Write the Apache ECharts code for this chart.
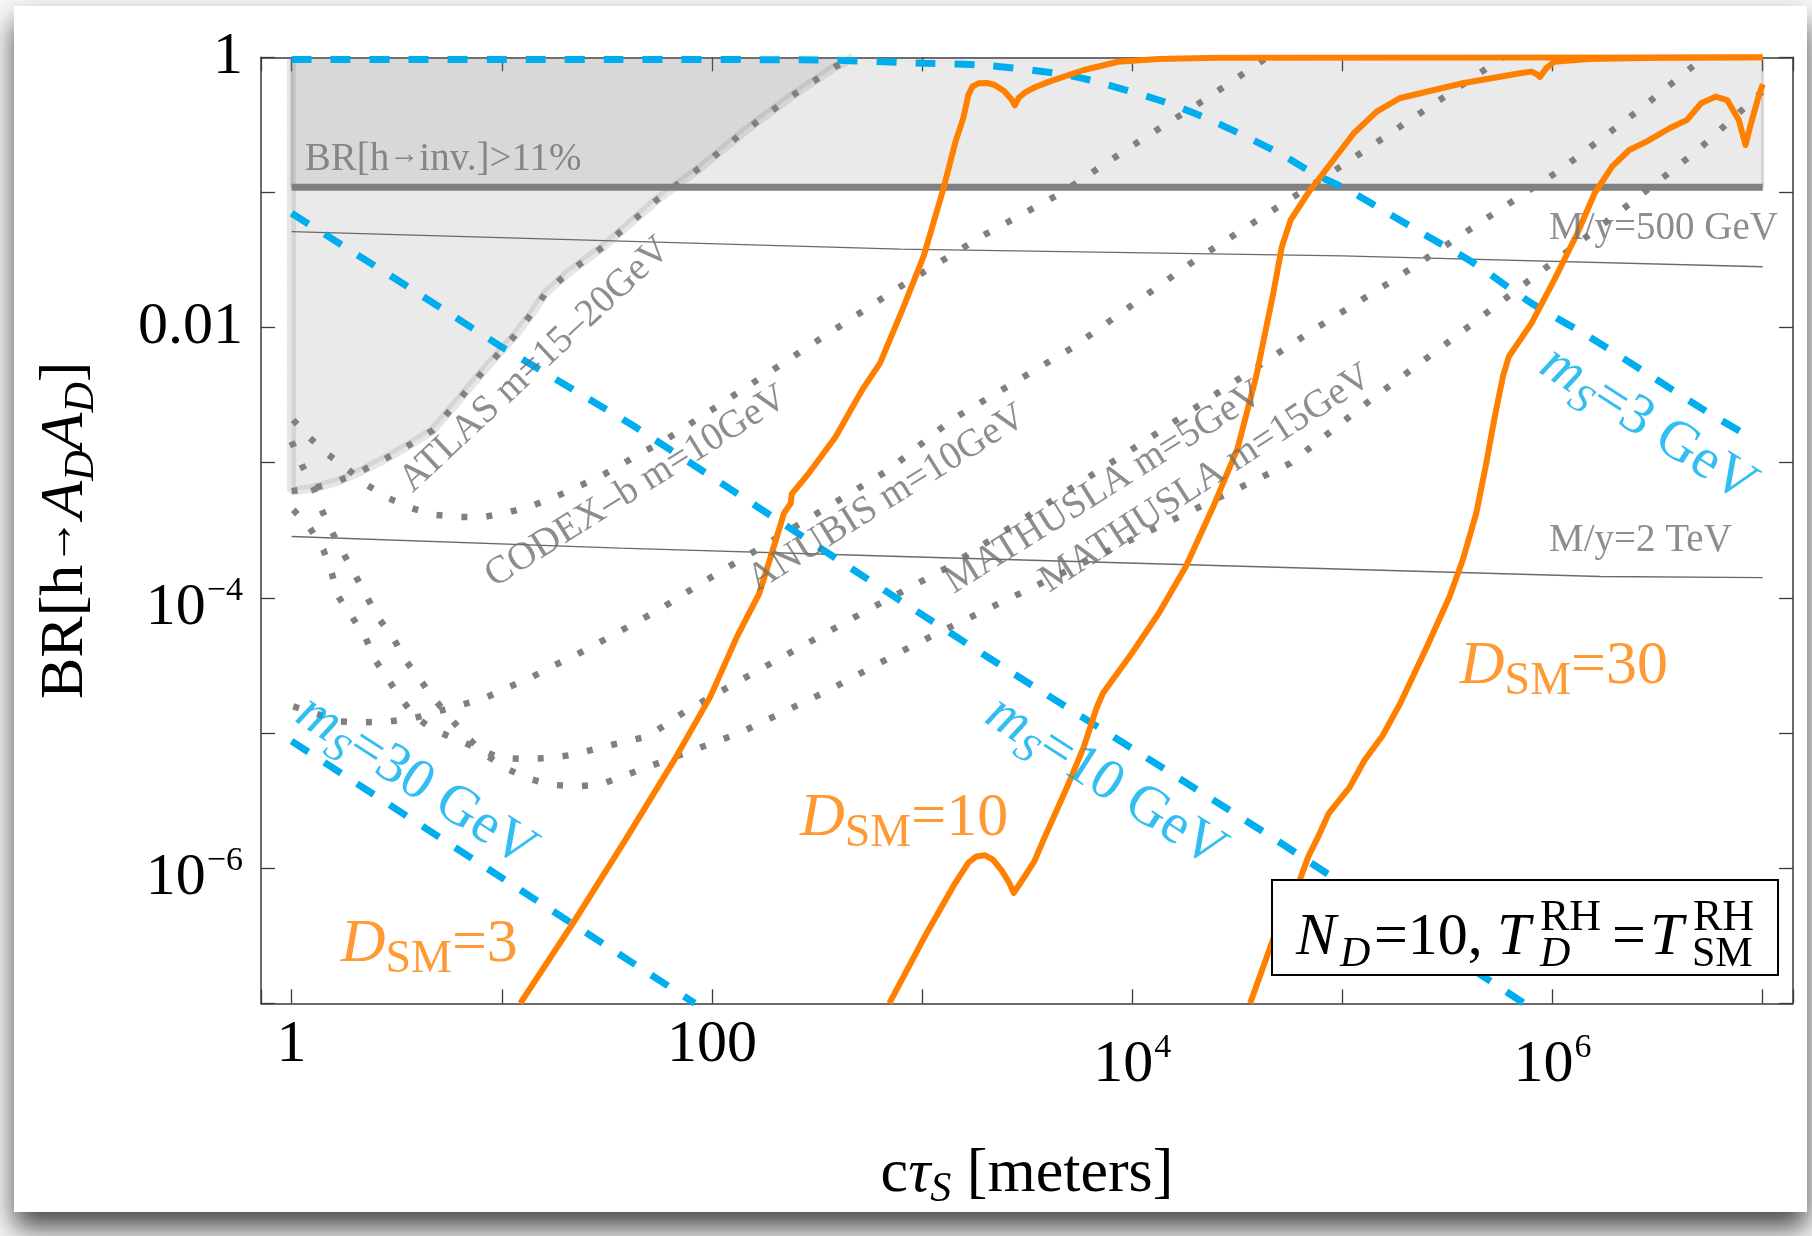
<!DOCTYPE html>
<html>
<head>
<meta charset="utf-8">
<title>BR(h→A_D A_D) vs cτ_S</title>
<script src="https://cdn.jsdelivr.net/npm/echarts@6.0.0/dist/echarts.min.js"></script>
<style>
  html, body { margin: 0; padding: 0; background: #f7f7f7; }
  #chart { width: 1812px; height: 1236px; }
</style>
</head>
<body>
<div id="chart"></div>
<script>
// Every curve below is a list of [log10(cτ_S / m), log10(BR)] points.

// Orange: fixed D_SM
const dSM3 = [[1.088,-7.0],[1.345,-6.393],[1.589,-5.789],[1.822,-5.197],[1.993,-4.729],[2.12,-4.285],[2.226,-3.964],[2.29,-3.644],[2.343,-3.373],[2.375,-3.30],[2.38,-3.23],[2.46,-3.08],[2.588,-2.81],[2.715,-2.461],[2.8,-2.263],[2.906,-1.869],[3.008,-1.47],[3.1,-0.98],[3.16,-0.62],[3.196,-0.45],[3.22,-0.28],[3.24,-0.215],[3.27,-0.192],[3.31,-0.19],[3.345,-0.205],[3.39,-0.25],[3.425,-0.31],[3.441,-0.355],[3.46,-0.30],[3.49,-0.26],[3.54,-0.22],[3.605,-0.18],[3.769,-0.094],[3.933,-0.033],[4.124,-0.012],[4.4,-0.003],[7.0,0]];
const dSM10 = [[2.844,-7.0],[3.022,-6.479],[3.15,-6.13],[3.22,-5.96],[3.258,-5.913],[3.3,-5.905],[3.337,-5.937],[3.38,-6.02],[3.415,-6.11],[3.436,-6.183],[3.48,-6.08],[3.534,-5.95],[3.575,-5.80],[3.69,-5.40],[3.77,-5.10],[3.83,-4.815],[3.861,-4.704],[3.999,-4.408],[4.127,-4.112],[4.255,-3.768],[4.384,-3.33],[4.50,-2.90],[4.59,-2.36],[4.671,-1.746],[4.712,-1.401],[4.754,-1.203],[4.836,-1.006],[4.945,-0.784],[5.054,-0.562],[5.163,-0.402],[5.272,-0.303],[5.436,-0.242],[5.572,-0.192],[5.709,-0.155],[5.845,-0.118],[5.9,-0.106],[5.925,-0.125],[5.94,-0.145],[5.97,-0.08],[6.008,-0.033],[6.173,-0.012],[6.5,-0.003],[7.0,0]];
const dSM30 = [[4.561,-7.0],[4.681,-6.479],[4.798,-6.085],[4.838,-5.913],[4.878,-5.789],[4.936,-5.592],[5.035,-5.40],[5.106,-5.20],[5.191,-5.02],[5.276,-4.778],[5.403,-4.359],[5.51,-3.99],[5.573,-3.718],[5.637,-3.373],[5.685,-3.0],[5.722,-2.683],[5.764,-2.36],[5.792,-2.214],[5.9,-1.967],[6.008,-1.647],[6.118,-1.302],[6.2,-1.006],[6.283,-0.809],[6.365,-0.686],[6.447,-0.624],[6.557,-0.525],[6.639,-0.464],[6.707,-0.34],[6.776,-0.291],[6.831,-0.316],[6.886,-0.464],[6.918,-0.649],[6.94,-0.513],[6.98,-0.291],[7.0,-0.2]];

// Blue dashed: fixed scalar mass m_S
const ms3 = [[0,-0.016],[1.5,-0.016],[2.5,-0.02],[3.012,-0.044],[3.307,-0.06],[3.635,-0.118],[3.797,-0.168],[4.125,-0.316],[4.316,-0.427],[4.508,-0.562],[4.699,-0.71],[4.863,-0.858],[5.025,-0.981],[5.19,-1.129],[5.408,-1.327],[5.626,-1.524],[5.9,-1.82],[6.173,-2.067],[6.447,-2.337],[6.72,-2.609],[6.95,-2.82]];
const ms10 = [[0,-1.154],[0.527,-1.672],[0.984,-2.128],[1.632,-2.732],[2.142,-3.25],[2.896,-4.02],[3.406,-4.532],[3.958,-5.074],[4.659,-5.765],[5.864,-7.0]];
const ms30 = [[0,-5.06],[1.918,-7.0]];

// Grey dotted: detector reach
const atlas = [[0,-3.21],[0.1,-3.19],[0.215,-3.14],[0.326,-3.065],[0.436,-2.979],[0.548,-2.88],[0.674,-2.757],[0.782,-2.56],[0.93,-2.288],[1.058,-2.066],[1.143,-1.894],[1.207,-1.746],[1.313,-1.598],[1.483,-1.401],[1.738,-1.055],[1.95,-0.809],[2.162,-0.538],[2.375,-0.291],[2.588,-0.069],[2.672,0]];
const codexB = [[0.007,-2.683],[0.088,-2.818],[0.175,-2.941],[0.27,-3.052],[0.357,-3.163],[0.46,-3.262],[0.571,-3.336],[0.674,-3.385],[0.793,-3.402],[0.912,-3.402],[1.031,-3.368],[1.143,-3.319],[1.253,-3.254],[1.357,-3.18],[1.468,-3.102],[1.567,-3.015],[1.663,-2.927],[1.758,-2.853],[2.896,-1.697],[3.277,-1.33],[3.66,-1.006],[4.042,-0.612],[4.343,-0.316],[4.643,0]];
const anubis = [[0.008,-4.803],[0.23,-4.914],[0.35,-4.921],[0.468,-4.914],[0.583,-4.889],[0.698,-4.84],[0.81,-4.791],[0.92,-4.741],[1.024,-4.667],[1.135,-4.593],[1.238,-4.507],[1.341,-4.433],[1.444,-4.347],[1.547,-4.26],[1.748,-4.088],[1.95,-3.89],[2.162,-3.694],[2.842,-3.052],[3.14,-2.683],[3.714,-2.15],[4.3,-1.5],[5.0,-0.8],[5.765,0]];
const mathusla5 = [[0.008,-3.348],[0.088,-3.484],[0.151,-3.644],[0.191,-3.817],[0.222,-3.99],[0.286,-4.138],[0.349,-4.285],[0.397,-4.458],[0.46,-4.606],[0.524,-4.754],[0.587,-4.877],[0.674,-4.976],[0.77,-5.037],[0.881,-5.111],[0.992,-5.185],[1.111,-5.192],[1.23,-5.185],[1.341,-5.16],[1.46,-5.111],[1.695,-5.025],[1.886,-4.827],[2.311,-4.458],[2.715,-4.112],[3.129,-3.768],[4.069,-2.831],[4.452,-2.436],[4.862,-2.017],[5.244,-1.647],[5.626,-1.253],[6.036,-0.834],[6.432,-0.365],[6.72,0]];
const mathusla15 = [[0,-2.843],[0.048,-3.015],[0.103,-3.18],[0.143,-3.348],[0.191,-3.509],[0.246,-3.669],[0.302,-3.829],[0.357,-3.99],[0.413,-4.149],[0.484,-4.297],[0.54,-4.458],[0.611,-4.606],[0.682,-4.754],[0.754,-4.889],[0.833,-5.025],[0.912,-5.148],[1.016,-5.259],[1.119,-5.333],[1.23,-5.382],[1.349,-5.395],[1.468,-5.382],[2.131,-5.0],[2.545,-4.692],[2.948,-4.359],[3.14,-4.211],[4.753,-3.003],[5.135,-2.535],[5.518,-2.09],[5.913,-1.622],[6.309,-1.154],[6.692,-0.686],[7.0,-0.25]];

// Thin grey: fixed M/y
const my500GeV = [[0,-1.29],[2.896,-1.42],[5.0,-1.47],[7.0,-1.55]];
const my2TeV = [[0,-3.546],[1.563,-3.632],[2.896,-3.694],[6.227,-3.842],[7.0,-3.85]];

// BR[h→inv.] > 11% bound and its x span
const invLimit = [[0,-0.962],[7,-0.962]];

// Axis extents (decades) and labelled decades
const xExtent = [-0.1456, 7.144];
const yExtent = [-7, 0];
const xLabelDecades = [0, 2, 4, 6];
const yLabelDecades = [0, -2, -4, -6];

// ---------------------------------------------------------------------------
const SERIF = 'Liberation Serif';
const BLUE = '#00AEEF', ORANGE = '#FF8000', GREY = '#808080', TEXT_GREY = '#707070';
const lin = pts => pts.map(([a, b]) => [Math.pow(10, a), Math.pow(10, b)]);
const decadeOf = v => { const e = Math.log10(v); const r = Math.round(e); return Math.abs(e - r) < 1e-6 ? r : null; };

const tickRich = (basePad, supPad) => ({
  n: { fontFamily: SERIF, fontSize: 60, lineHeight: 60, color: '#000', verticalAlign: 'top' },
  b: { fontFamily: SERIF, fontSize: 60, lineHeight: 60, color: '#000', verticalAlign: 'top', padding: [basePad, 0, 0, 0] },
  p: { fontFamily: SERIF, fontSize: 34, lineHeight: 34, color: '#000', verticalAlign: 'top', padding: [supPad, 0, 0, 1] }
});

const xLabel = v => {
  const d = decadeOf(v);
  if (d === null || xLabelDecades.indexOf(d) < 0) return '';
  if (d === 0) return '{n|1}';
  if (d === 2) return '{n|100}';
  return '{b|10}{p|' + d + '}';
};
const yLabel = v => {
  const d = decadeOf(v);
  if (d === null || yLabelDecades.indexOf(d) < 0) return '';
  if (d === 0) return '{n|1}';
  if (d === -2) return '{n|0.01}';
  return '{b|10}{p|−' + (-d) + '}';
};

const frameLine = { show: true, lineStyle: { color: '#3a3a3a', width: 1.5 } };
const frameTick = { show: true, inside: true, length: 14, lineStyle: { color: '#3a3a3a', width: 1.3 } };

const commonX = { type: 'log', logBase: 10, min: Math.pow(10, xExtent[0]), max: Math.pow(10, xExtent[1]), splitNumber: 7, splitLine: { show: false }, axisLine: frameLine, axisTick: frameTick };
const commonY = { type: 'log', logBase: 10, min: Math.pow(10, yExtent[0]), max: Math.pow(10, yExtent[1]), splitNumber: 7, splitLine: { show: false }, axisLine: frameLine, axisTick: frameTick };

const titleRich = {
  r: { fontFamily: SERIF, fontSize: 62, lineHeight: 62, color: '#000', verticalAlign: 'top' },
  a: { fontFamily: SERIF, fontSize: 46, lineHeight: 46, color: '#000', verticalAlign: 'top', padding: [2, 0, 0, 0] },
  i: { fontFamily: SERIF, fontSize: 62, lineHeight: 62, color: '#000', fontStyle: 'italic', verticalAlign: 'top' },
  s: { fontFamily: SERIF, fontSize: 42, lineHeight: 42, color: '#000', fontStyle: 'italic', verticalAlign: 'top', padding: [26, 0, 0, 0] }
};

const line = (name, pts, style, extra) => Object.assign({
  name, type: 'line', data: lin(pts), symbol: 'none', silent: true, animation: false,
  lineStyle: style
}, extra || {});

const dotted = { color: GREY, width: 6.5, type: [6, 19], cap: 'butt' };
const dashed = { color: BLUE, width: 7, type: [20, 19], cap: 'butt' };
const solidOrange = { color: ORANGE, width: 6, join: 'round' };
const shade = 'rgba(128,128,128,0.24)';

// Text annotations anchored in [log10 cτ, log10 BR]
const labelRich = {
  g: { fontFamily: SERIF, fontSize: 39, lineHeight: 39, color: TEXT_GREY, verticalAlign: 'top' },
  ga: { fontFamily: SERIF, fontSize: 30, lineHeight: 30, color: TEXT_GREY, verticalAlign: 'top' },
  bm: { fontFamily: SERIF, fontSize: 57, lineHeight: 57, color: BLUE, fontStyle: 'italic', verticalAlign: 'top' },
  bs: { fontFamily: SERIF, fontSize: 41, lineHeight: 41, color: BLUE, fontStyle: 'italic', verticalAlign: 'top', padding: [24, 0, 0, 0] },
  bt: { fontFamily: SERIF, fontSize: 57, lineHeight: 57, color: BLUE, verticalAlign: 'top' },
  od: { fontFamily: SERIF, fontSize: 62, lineHeight: 62, color: ORANGE, fontStyle: 'italic', verticalAlign: 'top' },
  os: { fontFamily: SERIF, fontSize: 46, lineHeight: 46, color: ORANGE, verticalAlign: 'top', padding: [23, 0, 0, 0] },
  ot: { fontFamily: SERIF, fontSize: 62, lineHeight: 62, color: ORANGE, verticalAlign: 'top' }
};
const notes = [
  { at: [0.721, -0.76], text: '{g|BR[h}{ga|→}{g|inv.]>11%}', rotate: 0 },
  { at: [1.159, -2.276], text: '{g|ATLAS m=15–20GeV}', rotate: 43 },
  { at: [1.641, -3.178], text: '{g|CODEX–b m=10GeV}', rotate: 32 },
  { at: [2.833, -3.263], text: '{g|ANUBIS m=10GeV}', rotate: 32 },
  { at: [3.866, -3.186], text: '{g|MATHUSLA m=5GeV}', rotate: 32 },
  { at: [4.351, -3.119], text: '{g|MATHUSLA m=15GeV}', rotate: 33 },
  { at: [6.528, -1.27], text: '{g|M/y=500 GeV}', rotate: 0 },
  { at: [6.418, -3.58], text: '{g|M/y=2 TeV}', rotate: 0 },
  { at: [0.592, -5.36], text: '{bm|m}{bs|S}{bt|=30 GeV}', rotate: -32.7 },
  { at: [3.873, -5.364], text: '{bm|m}{bs|S}{bt|=10 GeV}', rotate: -32.7 },
  { at: [6.454, -2.72], text: '{bm|m}{bs|S}{bt|=3 GeV}', rotate: -32.7 },
  { at: [0.655, -6.567], text: '{od|D}{os|SM}{ot|=3}', rotate: 0 },
  { at: [2.914, -5.634], text: '{od|D}{os|SM}{ot|=10}', rotate: 0 },
  { at: [6.054, -4.51], text: '{od|D}{os|SM}{ot|=30}', rotate: 0 }
];

const boxText = (x, y, text, size, italic) => ({
  type: 'text', x, y, z: 31,
  style: { text, fontFamily: SERIF, fontSize: size, fontStyle: italic ? 'italic' : 'normal', fill: '#000', verticalAlign: 'middle', align: 'left' }
});

const option = {
  backgroundColor: '#f7f7f7',
  animation: false,
  grid: { left: 261, right: 19, top: 57.3, bottom: 232.7, containLabel: false },
  xAxis: [
    Object.assign({}, commonX, {
      position: 'bottom',
      axisLabel: { formatter: xLabel, margin: 12, rich: tickRich(20, 16) },
      name: '{r|c}{i|τ}{s|S}{r| [meters]}', nameLocation: 'middle', nameGap: 140,
      nameTextStyle: { rich: titleRich }
    }),
    Object.assign({}, commonX, { position: 'top', axisLabel: { show: false } })
  ],
  yAxis: [
    Object.assign({}, commonY, {
      position: 'left',
      axisLabel: { formatter: yLabel, margin: 18, rich: tickRich(10, 6) },
      name: '{r|BR[h}{a|→}{i|A}{s|D}{i|A}{s|D}{r|]}', nameLocation: 'middle', nameGap: 164, nameRotate: 90,
      nameTextStyle: { rich: titleRich }
    }),
    Object.assign({}, commonY, { position: 'right', axisLabel: { show: false } })
  ],
  series: [
    // shaded exclusions
    line('inv band', [[0, 0]].concat(invLimit, [[7, 0]]), { color: 'rgba(128,128,128,0.25)', width: 3 },
      { areaStyle: { origin: 'end', color: shade }, z: 1 }),
    line('ATLAS region', [[0, 0]].concat(atlas), { color: 'rgba(128,128,128,0.2)', width: 9 },
      { areaStyle: { origin: 'end', color: shade }, z: 1 }),
    // M/y contours
    line('M/y=500 GeV', my500GeV, { color: '#6a6a6a', width: 1.3 }, { z: 2 }),
    line('M/y=2 TeV', my2TeV, { color: '#6a6a6a', width: 1.3 }, { z: 2 }),
    // detectors
    line('ATLAS', atlas, dotted, { z: 3 }),
    line('CODEX-b', codexB, dotted, { z: 3 }),
    line('ANUBIS', anubis, dotted, { z: 3 }),
    line('MATHUSLA 5', mathusla5, dotted, { z: 3 }),
    line('MATHUSLA 15', mathusla15, dotted, { z: 3 }),
    line('inv limit', invLimit, { color: GREY, width: 7 }, { z: 3 }),
    // fixed m_S
    line('ms3', ms3, dashed, { z: 4, smooth: 0.3 }),
    line('ms10', ms10, dashed, { z: 4 }),
    line('ms30', ms30, dashed, { z: 4 }),
    // fixed D_SM
    line('D3', dSM3, solidOrange, { z: 5 }),
    line('D10', dSM10, solidOrange, { z: 5 }),
    line('D30', dSM30, solidOrange, { z: 5 }),
    // annotations
    {
      name: 'notes', type: 'scatter', symbolSize: 0, silent: true, z: 6, animation: false,
      label: { show: true, position: 'inside', rich: labelRich },
      data: notes.map(n => ({
        value: [Math.pow(10, n.at[0]), Math.pow(10, n.at[1])],
        label: { formatter: n.text, rotate: n.rotate }
      }))
    }
  ],
  graphic: {
    elements: [
      { type: 'rect', z: -10, silent: true, shape: { x: 14, y: 6, width: 1793, height: 1206 },
        style: { fill: '#ffffff', shadowBlur: 26, shadowColor: 'rgba(0,0,0,0.7)', shadowOffsetY: 16, shadowOffsetX: 0 } },
      { type: 'rect', z: 30, silent: true, shape: { x: 1272, y: 880, width: 506, height: 95 },
        style: { fill: '#ffffff', stroke: '#000', lineWidth: 2 } },
      boxText(1296, 938.7, 'N', 60, true),
      boxText(1340, 954.8, 'D', 42, true),
      boxText(1374, 938.7, '=10,', 60, false),
      boxText(1497, 938.7, 'T', 60, true),
      boxText(1540, 918.2, 'RH', 44, false),
      boxText(1540, 954.8, 'D', 42, true),
      boxText(1612, 938.7, '=', 60, false),
      boxText(1650, 938.7, 'T', 60, true),
      boxText(1693, 918.2, 'RH', 44, false),
      boxText(1692, 954.8, 'SM', 42, false)
    ]
  }
};

const chart = echarts.init(document.getElementById('chart'), null, { renderer: 'canvas' });
chart.setOption(option);
</script>
</body>
</html>
